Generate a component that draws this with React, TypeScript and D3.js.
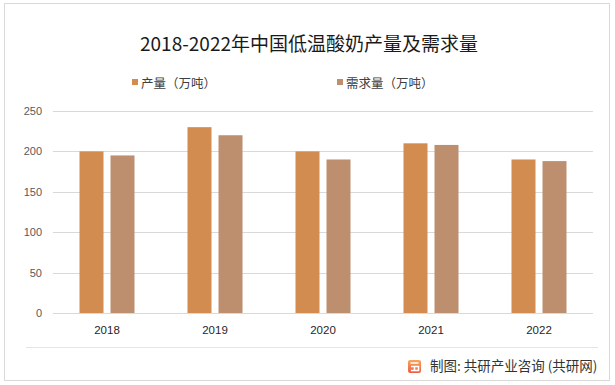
import React, { useRef, useEffect } from 'react';
import * as d3 from 'd3';

const years = ['2018', '2019', '2020', '2021', '2022'];
const output = [200, 230, 200, 210, 190];
const demand = [195, 220, 190, 208, 188];
const yTicks = [0, 50, 100, 150, 200, 250];
const seriesNames = ['产量（万吨）', '需求量（万吨）'];
const seriesColors = ['#D38C50', '#BE8F6E'];

export default function App(): JSX.Element {
  const svgRef = useRef<SVGSVGElement>(null);
  useEffect(() => {
    const el = svgRef.current;
    if (el == null) {
      return;
    }
    const svg = d3.select(el);
    svg.selectAll('*').remove();
    const W = 615;
    const H = 385;
    const cjk = '"Noto Sans CJK SC", "Microsoft YaHei", sans-serif';
    const num = '"Liberation Sans", Arial, sans-serif';

    svg.append('rect').attr('width', W).attr('height', H).attr('fill', '#fff');
    // 外框
    svg
      .append('rect')
      .attr('x', 4.5)
      .attr('y', 3.5)
      .attr('width', 605)
      .attr('height', 377)
      .attr('fill', 'none')
      .attr('stroke', '#D9D9D9');

    const plot = { left: 53, right: 593, top: 111, bottom: 313 };
    const x = d3.scaleBand().domain(years).range([plot.left, plot.right]);
    const y = d3.scaleLinear().domain([0, 250]).range([plot.bottom, plot.top]);
    const barW = 24;
    const gap = 7;

    // 网格线
    svg
      .selectAll()
      .data(yTicks)
      .join('line')
      .attr('x1', plot.left)
      .attr('x2', plot.right)
      .attr('y1', (d) => Math.round(y(d)) + 0.5)
      .attr('y2', (d) => Math.round(y(d)) + 0.5)
      .attr('stroke', '#D9D9D9');

    svg
      .selectAll()
      .data(yTicks)
      .join('text')
      .attr('x', 42)
      .attr('y', (d) => y(d) + 4)
      .attr('text-anchor', 'end')
      .style('font-family', num)
      .style('font-size', '11px')
      .attr('fill', '#595959')
      .text((d) => d);

    // 柱子
    const series = [output, demand];
    series.forEach((vals, si) => {
      svg
        .selectAll()
        .data(vals)
        .join('rect')
        .attr('x', (d, i) => {
          const c = (x(years[i]) as number) + x.bandwidth() / 2;
          return si === 0 ? c - gap / 2 - barW : c + gap / 2;
        })
        .attr('y', (d) => y(d))
        .attr('width', barW)
        .attr('height', (d) => y(0) - y(d))
        .attr('fill', seriesColors[si]);
    });

    svg
      .selectAll()
      .data(years)
      .join('text')
      .attr('x', (d) => (x(d) as number) + x.bandwidth() / 2)
      .attr('y', 334)
      .attr('text-anchor', 'middle')
      .style('font-family', num)
      .style('font-size', '11.5px')
      .attr('fill', '#1f1f1f')
      .text((d) => d);

    // 标题
    svg
      .append('text')
      .attr('x', 309)
      .attr('y', 51)
      .attr('text-anchor', 'middle')
      .style('font-family', cjk)
      .style('font-size', '19px')
      .attr('fill', '#1a1a1a')
      .text('2018-2022年中国低温酸奶产量及需求量');

    // 图例
    const legendX = [132, 337];
    seriesNames.forEach((name, i) => {
      svg
        .append('rect')
        .attr('x', legendX[i])
        .attr('y', 79)
        .attr('width', 6)
        .attr('height', 6)
        .attr('fill', seriesColors[i]);
      svg
        .append('text')
        .attr('x', legendX[i] + 9)
        .attr('y', 88)
        .style('font-family', cjk)
        .style('font-size', '12.5px')
        .attr('fill', '#404040')
        .text(name);
    });

    // 底部分隔线
    svg
      .append('line')
      .attr('x1', 26)
      .attr('x2', 598)
      .attr('y1', 347.5)
      .attr('y2', 347.5)
      .attr('stroke', '#E5E5E5');

    // logo
    const defs = svg.append('defs');
    const grad = defs
      .append('linearGradient')
      .attr('id', 'logoGrad')
      .attr('x1', '0')
      .attr('y1', '0')
      .attr('x2', '0')
      .attr('y2', '1');
    grad.append('stop').attr('offset', '0').attr('stop-color', '#F7A65C');
    grad.append('stop').attr('offset', '1').attr('stop-color', '#EC5F45');
    svg
      .append('rect')
      .attr('x', 408)
      .attr('y', 360)
      .attr('width', 13)
      .attr('height', 13)
      .attr('rx', 2)
      .attr('fill', 'url(#logoGrad)');
    svg
      .append('path')
      .attr('d', 'M410.5,363 H418.5 M411,366.5 H418.5 V370.5 H411 M414.5,366.5 V370.5')
      .attr('stroke', '#fff')
      .attr('stroke-width', 1.6)
      .attr('fill', 'none');

    svg
      .append('text')
      .attr('x', 430)
      .attr('y', 371)
      .style('font-family', cjk)
      .style('font-size', '13.5px')
      .attr('fill', '#333')
      .text('制图: 共研产业咨询 (共研网)');
  }, []);
  return (
    <svg
      ref={svgRef}
      width={615}
      height={385}
      style={{ position: 'absolute', left: 0, top: 0 }}
    />
  );
}
